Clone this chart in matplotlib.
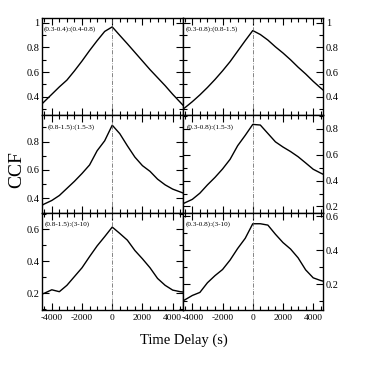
import matplotlib
matplotlib.use("Agg")
import matplotlib.pyplot as plt
import numpy as np
from matplotlib.ticker import MultipleLocator, FuncFormatter

plt.rcParams['font.family'] = ['Liberation Serif', 'DejaVu Serif']

# time delay grid (s)
lag = [-5000, -4500, -4000, -3500, -3000, -2500, -2000, -1500, -1000, -500, 0,
       500, 1000, 1500, 2000, 2500, 3000, 3500, 4000, 4500, 5000]

# CCF curves
ccf_r1_left = [0.30, 0.36, 0.42, 0.48, 0.535, 0.61, 0.69, 0.775, 0.855, 0.93, 0.967,
               0.898, 0.83, 0.76, 0.69, 0.62, 0.555, 0.49, 0.42, 0.355, 0.29]
ccf_r1_right = [0.27, 0.31, 0.36, 0.415, 0.475, 0.54, 0.61, 0.685, 0.77, 0.855, 0.937,
                0.905, 0.86, 0.805, 0.755, 0.70, 0.64, 0.585, 0.525, 0.47, 0.42]
ccf_r2_left = [0.33, 0.36, 0.385, 0.42, 0.47, 0.52, 0.575, 0.635, 0.735, 0.805, 0.915,
               0.855, 0.77, 0.69, 0.63, 0.59, 0.535, 0.495, 0.465, 0.445, 0.425]
ccf_r2_right = [0.20, 0.228, 0.255, 0.303, 0.367, 0.425, 0.49, 0.565, 0.67, 0.75, 0.835,
                0.83, 0.765, 0.70, 0.66, 0.625, 0.585, 0.537, 0.488, 0.458, 0.43]
ccf_r3_left = [0.185, 0.20, 0.222, 0.21, 0.25, 0.305, 0.36, 0.43, 0.497, 0.555, 0.615,
               0.575, 0.533, 0.468, 0.416, 0.36, 0.293, 0.25, 0.22, 0.21, 0.205]
ccf_r3_right = [0.085, 0.107, 0.133, 0.151, 0.208, 0.25, 0.286, 0.342, 0.41, 0.47, 0.556,
                0.556, 0.548, 0.494, 0.445, 0.407, 0.355, 0.284, 0.237, 0.221, 0.21]

curves = [ccf_r1_left, ccf_r1_right, ccf_r2_left, ccf_r2_right, ccf_r3_left, ccf_r3_right]
labels = ["(0.3-0.4):(0.4-0.8)", "(0.3-0.8):(0.8-1.5)",
          "(0.8-1.5):(1.5-3)", "(0.3-0.8):(1.5-3)",
          "(0.8-1.5):(3-10)", "(0.3-0.8):(3-10)"]
ylims = [(0.25, 1.04), (0.25, 1.04),
         (0.30, 0.985), (0.153, 0.906),
         (0.096, 0.706), (0.048, 0.622)]
label_x = [0.015, 0.025, 0.04, 0.03, 0.02, 0.025]

fig = plt.figure(figsize=(3.65, 3.65), dpi=100)
gs = fig.add_gridspec(3, 2, left=0.115, right=0.885, top=0.951, bottom=0.151,
                      hspace=0, wspace=0)

fmt = FuncFormatter(lambda v, p: "%g" % round(v, 3))

for i, y in enumerate(curves):
    row, col = i // 2, i % 2
    ax = fig.add_subplot(gs[row, col])
    ax.plot(lag, y, color='black', lw=1.0)
    ax.axvline(0, color='#555555', lw=0.5, linestyle=(0, (6, 2, 1, 2)))
    ax.set_xlim(-4650, 4650)
    ax.set_ylim(*ylims[i])
    ax.xaxis.set_major_locator(MultipleLocator(2000))
    ax.xaxis.set_minor_locator(MultipleLocator(500))
    ax.yaxis.set_major_locator(MultipleLocator(0.2))
    ax.yaxis.set_minor_locator(MultipleLocator(0.1))
    ax.yaxis.set_major_formatter(fmt)
    ax.xaxis.set_major_formatter(fmt)
    ax.tick_params(which='both', direction='in', top=True, bottom=True,
                   left=True, right=True, width=0.8, labelsize=7.5, pad=2)
    ax.tick_params(axis='x', labelsize=6.8, pad=3)
    ax.tick_params(which='major', length=5)
    ax.tick_params(which='minor', length=3)
    if col == 1:
        ax.tick_params(labelleft=False, labelright=True)
    if row < 2:
        ax.tick_params(labelbottom=False)
    for s in ax.spines.values():
        s.set_linewidth(1.0)
    ax.text(label_x[i], 0.88, labels[i], transform=ax.transAxes,
            fontsize=5.2, va='center', ha='left')

fig.text(0.045, 0.535, "CCF", rotation=90, fontsize=14, ha='center', va='center')
fig.text(0.503, 0.068, "Time Delay (s)", fontsize=10.5, ha='center', va='center')

fig.savefig("out.png", dpi=100)
